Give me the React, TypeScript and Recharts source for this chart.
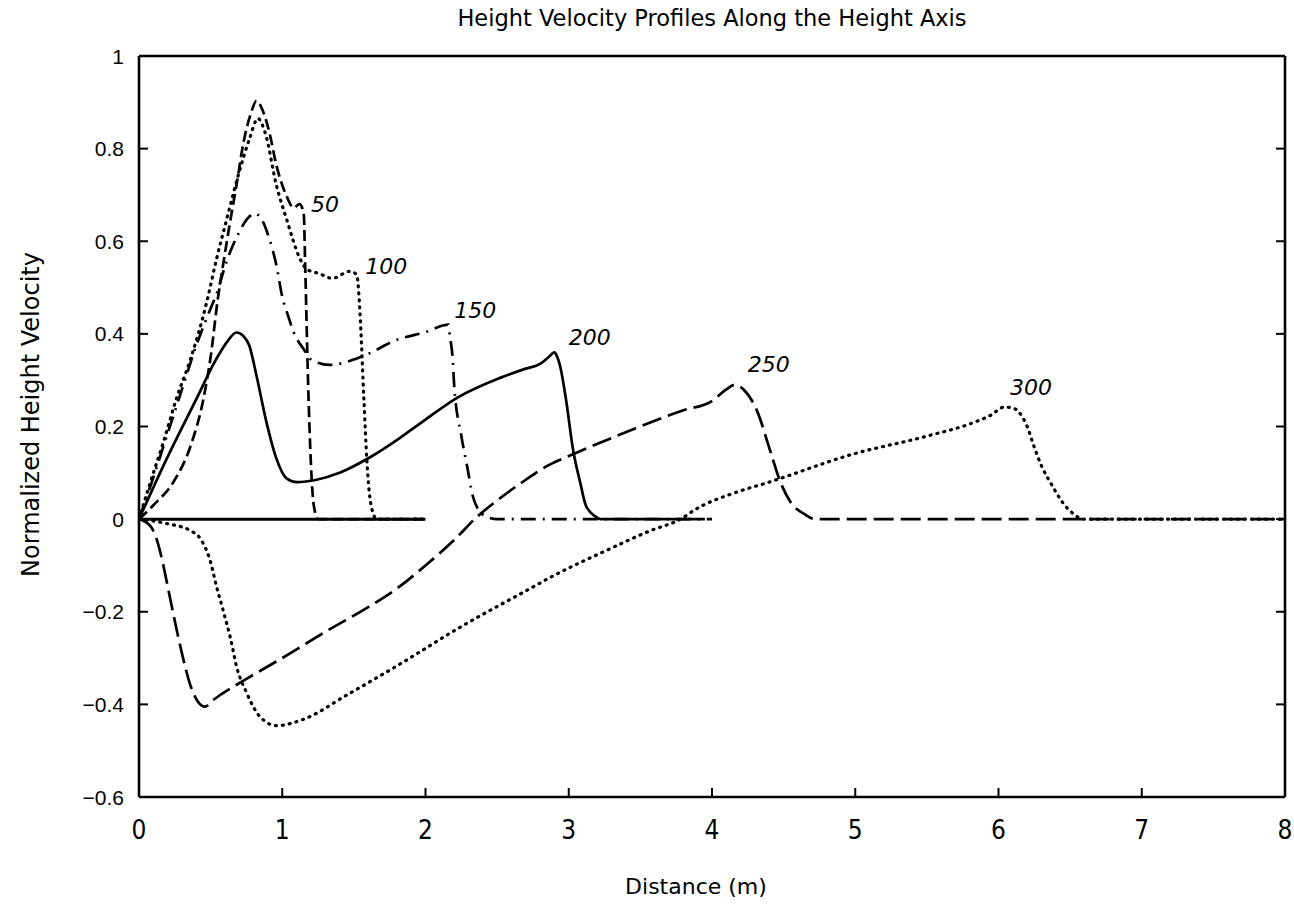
import { LineChart, Line, XAxis, YAxis, ReferenceDot, Label } from 'recharts';

// each profile is a list of [distance (m), normalized height velocity]
const profile50 = [
  [0, 0], [0.1, 0.03], [0.24, 0.08], [0.36, 0.158], [0.45, 0.26], [0.5, 0.35], [0.55, 0.475],
  [0.59, 0.555], [0.635, 0.64], [0.68, 0.72], [0.73, 0.814], [0.78, 0.875], [0.82, 0.903],
  [0.86, 0.885], [0.91, 0.835], [0.96, 0.763], [1.03, 0.698], [1.08, 0.672], [1.12, 0.68],
  [1.15, 0.66], [1.16, 0.55], [1.18, 0.3], [1.2, 0.12], [1.22, 0.03], [1.25, 0], [2, 0],
];

const profile100 = [
  [0, 0], [0.08, 0.08], [0.17, 0.166], [0.26, 0.259], [0.36, 0.346], [0.47, 0.465], [0.54, 0.56],
  [0.61, 0.645], [0.7, 0.75], [0.77, 0.82], [0.83, 0.865], [0.88, 0.835], [0.96, 0.72],
  [1.03, 0.648], [1.12, 0.565], [1.17, 0.54], [1.26, 0.53], [1.35, 0.52], [1.47, 0.535],
  [1.52, 0.528], [1.54, 0.46], [1.57, 0.26], [1.59, 0.13], [1.62, 0.03], [1.66, 0], [2, 0],
];

const profile150 = [
  [0, 0], [0.1, 0.09], [0.2, 0.185], [0.3, 0.28], [0.4, 0.375], [0.5, 0.455], [0.54, 0.485],
  [0.61, 0.555], [0.7, 0.62], [0.76, 0.65], [0.81, 0.66], [0.86, 0.645], [0.91, 0.605],
  [0.96, 0.547], [1.0, 0.48], [1.04, 0.44], [1.08, 0.403], [1.15, 0.367], [1.2, 0.345],
  [1.33, 0.333], [1.57, 0.353], [1.8, 0.387], [2.03, 0.407], [2.12, 0.418], [2.16, 0.42],
  [2.17, 0.396], [2.19, 0.345], [2.2, 0.29], [2.25, 0.18], [2.29, 0.115], [2.33, 0.05],
  [2.37, 0.02], [2.43, 0.005], [2.5, 0], [4, 0],
];

const profile200 = [
  [0, 0], [0.17, 0.115], [0.4, 0.259], [0.54, 0.346], [0.62, 0.385], [0.68, 0.403], [0.73, 0.395],
  [0.77, 0.375], [0.82, 0.31], [0.89, 0.209], [0.96, 0.13], [1.03, 0.088], [1.1, 0.08],
  [1.24, 0.085], [1.4, 0.1], [1.61, 0.133], [1.82, 0.175], [2.0, 0.215], [2.22, 0.262],
  [2.52, 0.305], [2.7, 0.325], [2.8, 0.335], [2.86, 0.35], [2.9, 0.36], [2.92, 0.35],
  [2.94, 0.33], [2.98, 0.26], [3.03, 0.15], [3.08, 0.079], [3.12, 0.029], [3.19, 0.005],
  [3.22, 0], [3.95, 0],
];

const profile250 = [
  [0, 0], [0.08, -0.015], [0.13, -0.05], [0.17, -0.1], [0.21, -0.16], [0.25, -0.22], [0.3, -0.29],
  [0.36, -0.36], [0.42, -0.398], [0.46, -0.405], [0.52, -0.39], [0.75, -0.345], [1.0, -0.3],
  [1.33, -0.238], [1.6, -0.19], [1.8, -0.15], [2.0, -0.1], [2.2, -0.045], [2.36, 0.005],
  [2.52, 0.045], [2.7, 0.085], [2.85, 0.115], [3.03, 0.14], [3.45, 0.194], [3.8, 0.235],
  [4.0, 0.255], [4.1, 0.28], [4.16, 0.29], [4.22, 0.28], [4.31, 0.237], [4.41, 0.144],
  [4.47, 0.086], [4.55, 0.036], [4.65, 0.01], [4.72, 0], [8, 0],
];

const profile300 = [
  [0, 0], [0.2, -0.01], [0.36, -0.025], [0.43, -0.043], [0.5, -0.093], [0.54, -0.144],
  [0.59, -0.2], [0.64, -0.259], [0.68, -0.317], [0.75, -0.374], [0.84, -0.425], [0.96, -0.446],
  [1.15, -0.432], [1.45, -0.38], [1.8, -0.317], [2.26, -0.23], [2.73, -0.15], [2.87, -0.126],
  [3.26, -0.068], [3.57, -0.025], [3.78, 0], [3.89, 0.022], [4.17, 0.058], [4.39, 0.079],
  [4.98, 0.14], [5.51, 0.18], [5.83, 0.209], [5.95, 0.225], [6.04, 0.242], [6.1, 0.24],
  [6.14, 0.232], [6.2, 0.2], [6.25, 0.155], [6.3, 0.115], [6.37, 0.075], [6.45, 0.035],
  [6.52, 0.012], [6.6, 0], [8, 0],
];

// solid zero segment at the start of the axis
const zeroStub = [[0, 0], [2, 0]];

const curveNames = ['50', '100', '150', '200', '250', '300'];
const curveLabelAt = [[1.2, 0.68], [1.58, 0.545], [2.2, 0.45], [3.0, 0.393], [4.25, 0.335], [6.08, 0.285]];

const xTicks = [0, 1, 2, 3, 4, 5, 6, 7, 8];
const yTicks = [-0.6, -0.4, -0.2, 0, 0.2, 0.4, 0.6, 0.8, 1];

const toPoints = (rows: number[][]) => rows.map(([x, y]) => ({ x, y }));

const ink = '#000';
const font = '"DejaVu Sans", sans-serif';
const TICK_LEN = 9;
const X_GAP = 22;
const Y_GAP = 15;

const fmtY = (v: number) => (v === 0 ? '0' : v < 0 ? `\u2212${Math.abs(v)}` : `${v}`);

const DOTTED = '1 6';
const series = [
  { name: '50', rows: profile50, dash: '11 5' },
  { name: '100', rows: profile100, dash: DOTTED },
  { name: '150', rows: profile150, dash: '15 7 2 7' },
  { name: '200', rows: profile200, dash: undefined },
  { name: '250', rows: profile250, dash: '20 7' },
  { name: '300', rows: profile300, dash: DOTTED },
];

// ticks are drawn pointing into the plot, matlab style
const BottomTick = ({ x, y, payload }: any) => {
  const y0 = y - X_GAP;
  return (
    <g>
      <line x1={x} x2={x} y1={y0} y2={y0 - TICK_LEN} stroke={ink} strokeWidth={2} />
      <text x={x} y={y} dy="0.75em" textAnchor="middle" fill={ink} fontSize={26}
        fontFamily='"DejaVu Sans Condensed", "DejaVu Sans", sans-serif'>
        {payload.value}
      </text>
    </g>
  );
};

const LeftTick = ({ x, y, payload }: any) => {
  const x0 = x + Y_GAP;
  return (
    <g>
      <line x1={x0} x2={x0 + TICK_LEN} y1={y} y2={y} stroke={ink} strokeWidth={2} />
      <text x={x} y={y} dy="0.36em" textAnchor="end" fill={ink} fontSize={21}
        fontFamily='"Liberation Sans", Arial, sans-serif'>
        {fmtY(payload.value)}
      </text>
    </g>
  );
};

const TopTick = ({ x, y }: any) => (
  <line x1={x} x2={x} y1={y + X_GAP} y2={y + X_GAP + TICK_LEN} stroke={ink} strokeWidth={2} />
);

const RightTick = ({ x, y }: any) => (
  <line x1={x - Y_GAP} x2={x - Y_GAP - TICK_LEN} y1={y} y2={y} stroke={ink} strokeWidth={2} />
);

export default function App() {
  return (
    <div style={{ position: 'absolute', left: 0, top: 0, width: 1294, height: 916, background: '#fff' }}>
      <LineChart width={1294} height={916} margin={{ top: 55, right: 8, bottom: 0, left: 0 }}>
        <XAxis
          type="number"
          dataKey="x"
          domain={[0, 8]}
          ticks={xTicks}
          interval={0}
          allowDataOverflow
          height={119}
          stroke={ink}
          strokeWidth={2.6}
          tickLine={false}
          tickSize={0}
          tickMargin={X_GAP}
          tick={BottomTick}
        >
          <Label value="Distance (m)" position="insideBottom" offset={22} dx={-16}
            style={{ fill: ink, fontSize: 22, fontFamily: font }} />
        </XAxis>
        <XAxis
          xAxisId="top"
          orientation="top"
          type="number"
          domain={[0, 8]}
          ticks={xTicks.slice(1, -1)}
          interval={0}
          allowDataOverflow
          height={1}
          stroke={ink}
          strokeWidth={2.6}
          tickLine={false}
          tickSize={0}
          tickMargin={X_GAP}
          tick={TopTick}
        >
          <Label value="Height Velocity Profiles Along the Height Axis" position="top" offset={29}
            style={{ fill: ink, fontSize: 22.5, fontFamily: font }} />
        </XAxis>
        <YAxis
          type="number"
          domain={[-0.6, 1]}
          ticks={yTicks}
          interval={0}
          allowDataOverflow
          width={139}
          stroke={ink}
          strokeWidth={2.6}
          tickLine={false}
          tickSize={0}
          tickMargin={Y_GAP}
          tick={LeftTick}
        >
          <Label value="Normalized Height Velocity" angle={-90} position="insideLeft" offset={30} dy={-12}
            style={{ fill: ink, fontSize: 24, fontFamily: font, textAnchor: 'middle' }} />
        </YAxis>
        <YAxis
          yAxisId="right"
          orientation="right"
          type="number"
          domain={[-0.6, 1]}
          ticks={yTicks.slice(1, -1)}
          interval={0}
          allowDataOverflow
          width={1}
          stroke={ink}
          strokeWidth={2.6}
          tickLine={false}
          tickSize={0}
          tickMargin={Y_GAP}
          tick={RightTick}
        />

        <Line data={toPoints(zeroStub)} dataKey="y" type="linear" stroke={ink} strokeWidth={3}
          dot={false} isAnimationActive={false} />
        {series.map((s) => (
          <Line
            key={s.name}
            data={toPoints(s.rows)}
            dataKey="y"
            name={s.name}
            type="monotone"
            stroke={ink}
            strokeWidth={s.dash === DOTTED ? 3.2 : 2.7}
            strokeDasharray={s.dash}
            strokeLinecap={s.dash === DOTTED ? 'round' : 'butt'}
            dot={false}
            isAnimationActive={false}
          />
        ))}

        {curveNames.map((name, i) => (
          <ReferenceDot
            key={name}
            x={curveLabelAt[i][0]}
            y={curveLabelAt[i][1]}
            r={0}
            shape={(p: any) => (
              <text x={p.cx} y={p.cy} dy="0.35em" fill={ink} fontSize={22} fontStyle="italic" fontFamily={font}>
                {name}
              </text>
            )}
          />
        ))}
      </LineChart>
    </div>
  );
}
